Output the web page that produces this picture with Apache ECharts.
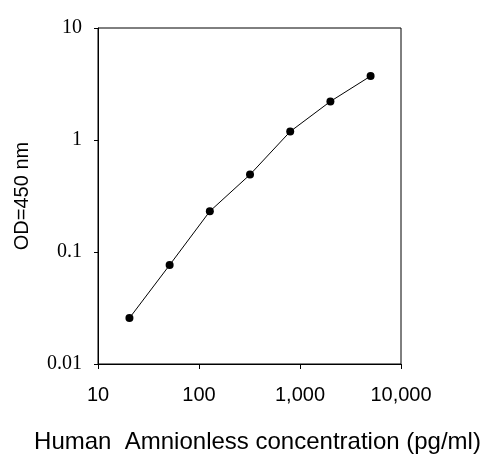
<!DOCTYPE html>
<html>
<head>
<meta charset="utf-8">
<script src="https://cdn.jsdelivr.net/npm/echarts@6/dist/echarts.min.js"></script>
<style>
html,body{margin:0;padding:0;background:#fff;}
#chart{width:488px;height:461px;}
</style>
</head>
<body>
<div id="chart"></div>
<script>
// 标准曲线数据
var concentration = [20.48, 51.2, 128, 320, 800, 2000, 5000];
var odValues = [0.0257, 0.0765, 0.231, 0.491, 1.19, 2.21, 3.72];
var xTickLabels = ['10', '100', '1,000', '10,000'];   // 10^1 .. 10^4
var yTickLabels = ['0.01', '0.1', '1', '10'];          // 10^-2 .. 10^1

var points = [];
for (var i = 0; i < concentration.length; i++) {
    points.push([concentration[i], odValues[i]]);
}

var chart = echarts.init(document.getElementById('chart'));
chart.setOption({
    animation: false,
    grid: {
        left: 98,
        right: 87,
        top: 28,
        bottom: 97,
        show: true,
        borderColor: '#000',
        borderWidth: 1,
        backgroundColor: 'transparent'
    },
    xAxis: {
        type: 'log',
        logBase: 10,
        min: 10,
        max: 10000,
        name: 'Human  Amnionless concentration (pg/ml)',
        nameLocation: 'middle',
        nameGap: 66,
        nameTextStyle: {
            fontFamily: 'Liberation Sans, Arial, sans-serif',
            fontSize: 24,
            color: '#000',
            padding: [0, 0, 0, 16]
        },
        axisLine: {show: true, lineStyle: {color: '#000', width: 1}},
        axisTick: {show: true, inside: false, length: 5, lineStyle: {color: '#000'}},
        minorTick: {show: false},
        splitLine: {show: false},
        axisLabel: {
            margin: 21,
            fontFamily: 'Liberation Sans, Arial, sans-serif',
            fontSize: 20,
            color: '#000',
            formatter: function (v) {
                return xTickLabels[Math.round(Math.log10(v)) - 1];
            }
        }
    },
    yAxis: {
        type: 'log',
        logBase: 10,
        min: 0.01,
        max: 10,
        name: 'OD=450 nm',
        nameLocation: 'middle',
        nameGap: 66,
        nameTextStyle: {
            fontFamily: 'Liberation Sans, Arial, sans-serif',
            fontSize: 20,
            color: '#000'
        },
        axisLine: {show: true, lineStyle: {color: '#000', width: 1}},
        axisTick: {show: true, inside: false, length: 4, lineStyle: {color: '#000'}},
        minorTick: {show: false},
        splitLine: {show: false},
        axisLabel: {
            margin: 16,
            fontFamily: 'Liberation Serif, Times New Roman, serif',
            fontSize: 20,
            color: '#000',
            formatter: function (v) {
                return yTickLabels[Math.round(Math.log10(v)) + 2];
            }
        }
    },
    series: [
        {
            type: 'line',
            data: points,
            symbol: 'circle',
            symbolSize: 8,
            itemStyle: {color: '#000'},
            lineStyle: {color: '#000', width: 1}
        }
    ]
});
</script>
</body>
</html>
